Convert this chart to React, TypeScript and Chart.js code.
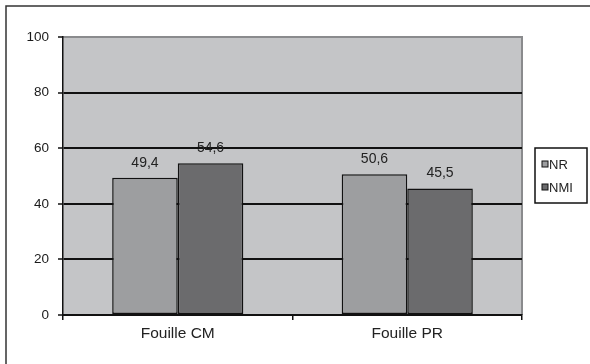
import React, { useEffect, useRef } from "react";
import { Chart, registerables } from "chart.js";

Chart.register(...registerables);

const categories = ["Fouille CM", "Fouille PR"];
const seriesNames = ["NR", "NMI"];
const nrValues = [49.4, 50.6];
const nmiValues = [54.6, 45.5];
const yTicks = [0, 20, 40, 60, 80, 100];

const FONT = "'Liberation Sans', Arial, sans-serif";

const framePlugin = {
  id: "framePlugin",
  beforeDraw(chart: any) {
    const ctx = chart.ctx;
    const { left, top, right, bottom } = chart.chartArea;
    ctx.save();
    ctx.fillStyle = "#ffffff";
    ctx.fillRect(0, 0, chart.width, chart.height);
    ctx.strokeStyle = "#333333";
    ctx.lineWidth = 1.5;
    ctx.beginPath();
    ctx.moveTo(6, chart.height + 2);
    ctx.lineTo(6, 6);
    ctx.lineTo(chart.width + 2, 6);
    ctx.stroke();
    ctx.fillStyle = "#c4c5c7";
    ctx.fillRect(left, top, right - left, bottom - top);
    ctx.strokeStyle = "#8a8b8d";
    ctx.lineWidth = 2;
    ctx.beginPath();
    ctx.moveTo(left, top);
    ctx.lineTo(right, top);
    ctx.lineTo(right, bottom);
    ctx.stroke();
    ctx.restore();
  },
};

const labelPlugin = {
  id: "labelPlugin",
  afterDatasetsDraw(chart: any) {
    const ctx = chart.ctx;
    ctx.save();
    ctx.font = `14px ${FONT}`;
    ctx.fillStyle = "#222222";
    ctx.textAlign = "center";
    ctx.textBaseline = "bottom";
    chart.data.datasets.forEach((ds: any, i: number) => {
      const meta = chart.getDatasetMeta(i);
      meta.data.forEach((bar: any, j: number) => {
        const v = ds.data[j];
        ctx.fillText(String(v).replace(".", ","), bar.x, bar.y - 8);
      });
    });
    ctx.restore();
  },
};

const legendPlugin = {
  id: "customLegend",
  afterDraw(chart: any) {
    const ctx = chart.ctx;
    const x0 = 535;
    const y0 = 148;
    const w = 52;
    const h = 55;
    ctx.save();
    ctx.fillStyle = "#ffffff";
    ctx.fillRect(x0, y0, w, h);
    ctx.strokeStyle = "#111111";
    ctx.lineWidth = 1.5;
    ctx.strokeRect(x0, y0, w, h);
    ctx.font = `13px ${FONT}`;
    ctx.textBaseline = "middle";
    ctx.textAlign = "left";
    chart.data.datasets.forEach((ds: any, i: number) => {
      const cy = y0 + 16 + i * 23;
      ctx.fillStyle = ds.backgroundColor;
      ctx.fillRect(542, cy - 3, 6, 6);
      ctx.strokeStyle = "#111111";
      ctx.lineWidth = 1;
      ctx.strokeRect(542, cy - 3, 6, 6);
      ctx.fillStyle = "#222222";
      ctx.fillText(ds.label, 549, cy + 1);
    });
    ctx.restore();
  },
};

export default function App() {
  const ref = useRef<HTMLCanvasElement>(null);

  useEffect(() => {
    if (!ref.current) return;
    const chart = new Chart(ref.current, {
      type: "bar",
      data: {
        labels: categories,
        datasets: [
          {
            label: seriesNames[0],
            data: nrValues,
            backgroundColor: "#9d9ea0",
            borderColor: "#111111",
            borderWidth: 1.5,
            borderSkipped: false,
            categoryPercentage: 0.5714,
            barPercentage: 1,
          },
          {
            label: seriesNames[1],
            data: nmiValues,
            backgroundColor: "#6b6b6d",
            borderColor: "#111111",
            borderWidth: 1.5,
            borderSkipped: false,
            categoryPercentage: 0.5714,
            barPercentage: 1,
          },
        ],
      },
      options: {
        responsive: false,
        animation: false,
        devicePixelRatio: 1,
        layout: { padding: { left: 0, top: 37, right: 68, bottom: 0 } },
        plugins: {
          legend: { display: false },
          tooltip: { enabled: false },
          title: { display: false },
        },
        scales: {
          x: {
            afterFit(scale: any) {
              scale.height = 49;
            },
            border: { display: true, color: "#111111", width: 2 },
            grid: {
              display: true,
              drawOnChartArea: false,
              drawTicks: true,
              tickLength: 5,
              color: "#111111",
              lineWidth: 1.5,
              offset: true,
            },
            ticks: {
              color: "#222222",
              font: { family: FONT, size: 15.5 },
              padding: 4,
            },
          },
          y: {
            min: 0,
            max: 100,
            afterFit(scale: any) {
              scale.width = 63;
            },
            afterBuildTicks(scale: any) {
              scale.ticks = yTicks.map((v) => ({ value: v }));
            },
            border: { display: true, color: "#111111", width: 1.5 },
            grid: {
              display: true,
              drawTicks: true,
              tickLength: 5,
              tickColor: "#111111",
              tickWidth: 1.5,
              color: (c: any) =>
                c.tick && c.tick.value === 100 ? "rgba(0,0,0,0)" : "#111111",
              lineWidth: 2,
            },
            ticks: {
              color: "#1a1a1a",
              font: { family: FONT, size: 13.5 },
              padding: 9,
            },
          },
        },
      },
      plugins: [framePlugin, labelPlugin, legendPlugin],
    });
    return () => chart.destroy();
  }, []);

  return (
    <div style={{ position: "absolute", left: 0, top: 0, width: 590, height: 364 }}>
      <canvas ref={ref} width={590} height={364} style={{ display: "block" }} />
    </div>
  );
}
